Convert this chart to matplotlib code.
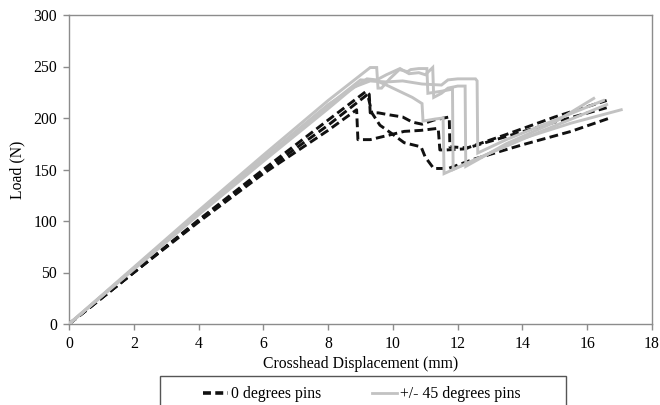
import matplotlib
matplotlib.use("Agg")
import matplotlib.pyplot as plt
from matplotlib.lines import Line2D
from matplotlib.patches import Rectangle

# ---- data ----
# 0 degrees pins (black dashed)
b1_x = [0, 2, 4, 6, 8, 9.18, 9.27, 9.3, 9.55, 9.9, 10.3, 10.6, 10.9, 11.26, 11.74, 11.76, 12.3, 13.5, 15.0, 16.6]
b1_y = [0, 50, 101, 150, 198, 226, 223, 205, 205, 203, 201, 196, 194, 198, 201, 172, 171, 184, 201, 217]
b2_x = [0, 2, 4, 6, 8, 8.88, 8.92, 9.3, 9.83, 10.35, 10.87, 11.4, 11.45, 11.65, 12.2, 13.5, 15.0, 16.6]
b2_y = [0, 50, 99, 146, 188, 208, 179, 179, 183, 187, 188, 190, 169, 169, 170, 182, 196, 210]
b3_x = [0, 2, 4, 6, 8, 9.1, 9.22, 9.35, 9.6, 9.96, 10.35, 10.87, 11.0, 11.26, 11.71, 12.5, 14.0, 15.5, 16.7]
b3_y = [0, 50, 100, 148, 193, 220, 223, 205, 193, 185, 176, 172, 162, 151, 151, 160, 174, 187, 200]

# +/- 45 degrees pins (grey solid)
g1_x = [0, 2, 4, 6, 8, 9.3, 9.5, 9.54, 9.65, 9.9, 10.2, 10.45, 10.55, 10.8, 11.05, 11.08, 11.5, 11.84, 11.86, 13.0, 14.5, 16.6]
g1_y = [0, 55, 110, 164, 217, 249, 249, 229, 229, 238, 247, 245, 247, 248, 248, 224, 226, 228, 150, 166, 186, 213]
g2_x = [0, 2, 4, 6, 8, 9.0, 9.5, 9.8, 10.2, 10.6, 10.9, 10.93, 11.3, 11.55, 11.58, 12.5, 14.0, 15.5, 17.05]
g2_y = [0, 54, 108, 160, 212, 237, 236, 232, 226, 220, 214, 197, 199, 200, 146, 159, 180, 195, 208]
g3_x = [0, 2, 4, 6, 8, 9.2, 9.5, 9.8, 10.22, 10.5, 10.8, 11.0, 11.23, 11.26, 11.5, 11.7, 12.0, 12.23, 12.25, 13.5, 15.0, 16.2]
g3_y = [0, 54, 108, 161, 213, 238, 237, 242, 248, 243, 244, 242, 249, 220, 224, 229, 231, 231, 153, 175, 196, 219]
g4_x = [0, 2, 4, 6, 8, 8.8, 9.3, 9.8, 10.3, 10.9, 11.5, 11.7, 12.0, 12.55, 12.6, 12.62, 13.5, 15.0, 16.5]
g4_y = [0, 53, 106, 158, 209, 230, 236, 235, 236, 233, 232, 237, 238, 238, 236, 166, 179, 198, 217]

x_ticks = [0, 2, 4, 6, 8, 10, 12, 14, 16, 18]
y_ticks = [0, 50, 100, 150, 200, 250, 300]
labels = ["0 degrees pins", "+/- 45 degrees pins"]

# ---- style ----
plt.rcParams['font.family'] = ['Liberation Serif', 'DejaVu Serif']
FS = 11.3

BLACK = "#111111"
GREY = "#c2c2c2"
FRAME = "#8c8c8c"

fig = plt.figure(figsize=(6.6, 4.05), dpi=100)
ax = fig.add_axes([69/660, 1 - 324/405, (652-69)/660, (324-15)/405])

for xs, ys in [(b1_x, b1_y), (b2_x, b2_y), (b3_x, b3_y)]:
    ax.plot(xs, ys, color=BLACK, lw=2.1, dashes=(3, 1.5), zorder=2)
for xs, ys in [(g1_x, g1_y), (g2_x, g2_y), (g3_x, g3_y), (g4_x, g4_y)]:
    ax.plot(xs, ys, color=GREY, lw=2.1, zorder=3, solid_joinstyle='miter')

ax.set_xlim(x_ticks[0], x_ticks[-1])
ax.set_ylim(y_ticks[0], y_ticks[-1])
ax.set_xticks(x_ticks)
ax.set_yticks(y_ticks)
for s in ax.spines.values():
    s.set_color(FRAME)
    s.set_linewidth(1.0)
ax.tick_params(axis='both', direction='out', length=4.5, width=1.0, color=FRAME,
               labelsize=FS, pad=4)
ax.tick_params(top=False, right=False)

ax.set_xlabel("Crosshead Displacement (mm)", fontsize=FS, labelpad=3)
ax.set_ylabel("Load (N)", fontsize=FS, labelpad=6)

handles = [Line2D([], [], color=BLACK, lw=2.6, dashes=(2.2, 1.2)),
           Line2D([], [], color=GREY, lw=2.0)]
leg = fig.legend(handles, labels, loc='center', bbox_to_anchor=(362/660, 1 - 394/405),
                 ncol=2, frameon=False, fontsize=FS, handlelength=1.6,
                 handletextpad=0.2, columnspacing=3.2)
fig.add_artist(Rectangle((160/660, 1 - 406/405), (566-160)/660, (406-376)/405,
                         transform=fig.transFigure, fill=False,
                         edgecolor="#555555", lw=1.0, clip_on=False))

fig.savefig("out.png", dpi=100)
